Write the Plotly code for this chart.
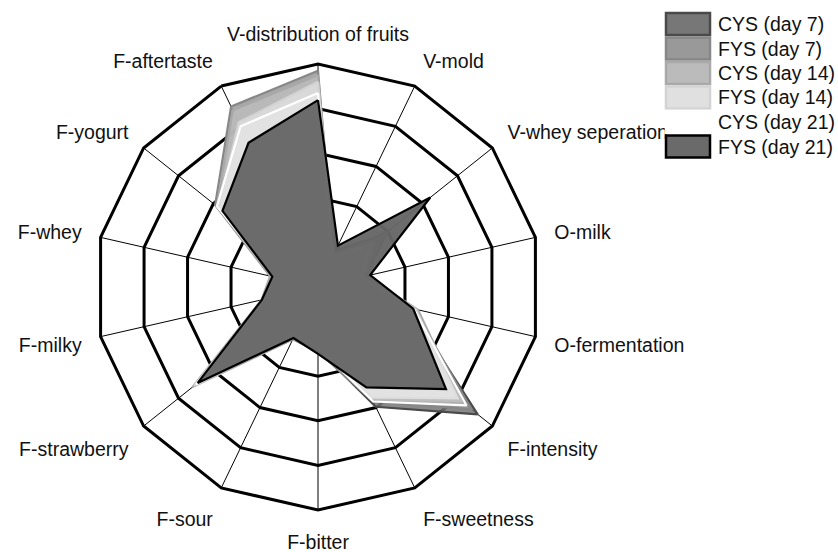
import plotly.graph_objects as go

categories = ["V-distribution of fruits", "V-mold", "V-whey seperation", "O-milk",
              "O-fermentation", "F-intensity", "F-sweetness", "F-bitter", "F-sour",
              "F-strawberry", "F-milky", "F-whey", "F-yogurt", "F-aftertaste"]

series_names = ["CYS (day 7)", "FYS (day 7)", "CYS (day 14)", "FYS (day 14)",
                "CYS (day 21)", "FYS (day 21)"]

cys_day7  = [4.30, 0.90, 1.90, 1.00, 2.10, 4.58, 2.98, 1.40, 1.25, 3.40, 1.20, 1.00, 2.80, 3.90]
fys_day7  = [4.85, 0.80, 2.00, 1.10, 2.20, 4.40, 2.85, 1.45, 1.30, 3.50, 1.25, 1.10, 2.95, 4.49]
cys_day14 = [4.75, 0.85, 1.70, 1.10, 2.30, 4.10, 2.80, 1.40, 1.30, 3.60, 1.30, 1.10, 2.90, 4.40]
fys_day14 = [4.60, 0.80, 1.60, 1.05, 2.25, 4.00, 2.75, 1.35, 1.25, 3.55, 1.25, 1.05, 2.85, 4.10]
cys_day21 = [4.35, 0.75, 1.50, 1.00, 2.20, 4.26, 2.85, 1.35, 1.20, 3.50, 1.20, 1.00, 2.90, 4.00]
fys_day21 = [4.19, 1.03, 3.22, 1.20, 2.19, 3.67, 2.50, 1.50, 1.27, 3.45, 1.29, 1.05, 2.74, 3.59]

series_values = [cys_day7, fys_day7, cys_day14, fys_day14, cys_day21, fys_day21]

fill_colors = ["rgba(118,118,118,0.85)", "rgba(152,152,152,0.85)", "rgba(188,188,188,0.85)",
               "rgba(222,222,222,0.85)", "rgba(255,255,255,0.25)", "rgba(102,102,102,0.96)"]
line_colors = ["#4a4a4a", "#878787", "#a9a9a9", "#d3d3d3", "#ffffff", "#000000"]
swatch_fill = ["#777777", "#999999", "#bbbbbb", "#e0e0e0", "#ffffff", "#6a6a6a"]

fig = go.Figure()
for name, vals, fc, lc in zip(series_names, series_values, fill_colors, line_colors):
    fig.add_trace(go.Scatterpolar(
        r=vals + vals[:1],
        theta=categories + categories[:1],
        mode="lines",
        fill="toself",
        fillcolor=fc,
        line=dict(color=lc, width=2.2),
        name=name,
        showlegend=False,
    ))

W, H = 838, 552
cx, cy, R = 318, 287, 223
FONT = "Arial, Liberation Sans, sans-serif"

fig.update_layout(
    width=W, height=H,
    margin=dict(l=0, r=0, t=0, b=0),
    paper_bgcolor="white",
    plot_bgcolor="white",
    font=dict(family=FONT, size=19.5, color="#111111"),
    polar=dict(
        domain=dict(x=[(cx - R) / W, (cx + R) / W], y=[1 - (cy + R) / H, 1 - (cy - R) / H]),
        bgcolor="white",
        gridshape="linear",
        radialaxis=dict(range=[0, 5], dtick=1, showticklabels=False, ticks="",
                        showline=False, gridcolor="#000000", gridwidth=3,
                        layer="below traces"),
        angularaxis=dict(rotation=90, direction="clockwise", categoryorder="array",
                         categoryarray=categories,
                         ticks="outside", ticklen=14, tickcolor="rgba(0,0,0,0)",
                         tickfont=dict(family=FONT, size=19.5, color="#111111"),
                         showline=True, linecolor="#000000", linewidth=3,
                         gridcolor="#000000", gridwidth=1, layer="below traces"),
    ),
)

# manual legend (layout positions in pixels)
row_y = [24, 48.5, 73, 97.5, 122, 146.5]
for name, sf, lc, yc in zip(series_names, swatch_fill, line_colors, row_y):
    fig.add_shape(type="rect", xref="paper", yref="paper",
                  x0=666 / W, x1=710 / W,
                  y0=1 - (yc + 11) / H, y1=1 - (yc - 11) / H,
                  fillcolor=sf, line=dict(color=lc, width=2.5))
    fig.add_annotation(xref="paper", yref="paper", x=716 / W, y=1 - yc / H,
                       xanchor="left", yanchor="middle", text=name, showarrow=False,
                       font=dict(family=FONT, size=19.5, color="#111111"))

fig.write_html("out.html", config={"displayModeBar": False},
               post_script="document.body.style.margin='0px';document.body.style.overflow='hidden';")
